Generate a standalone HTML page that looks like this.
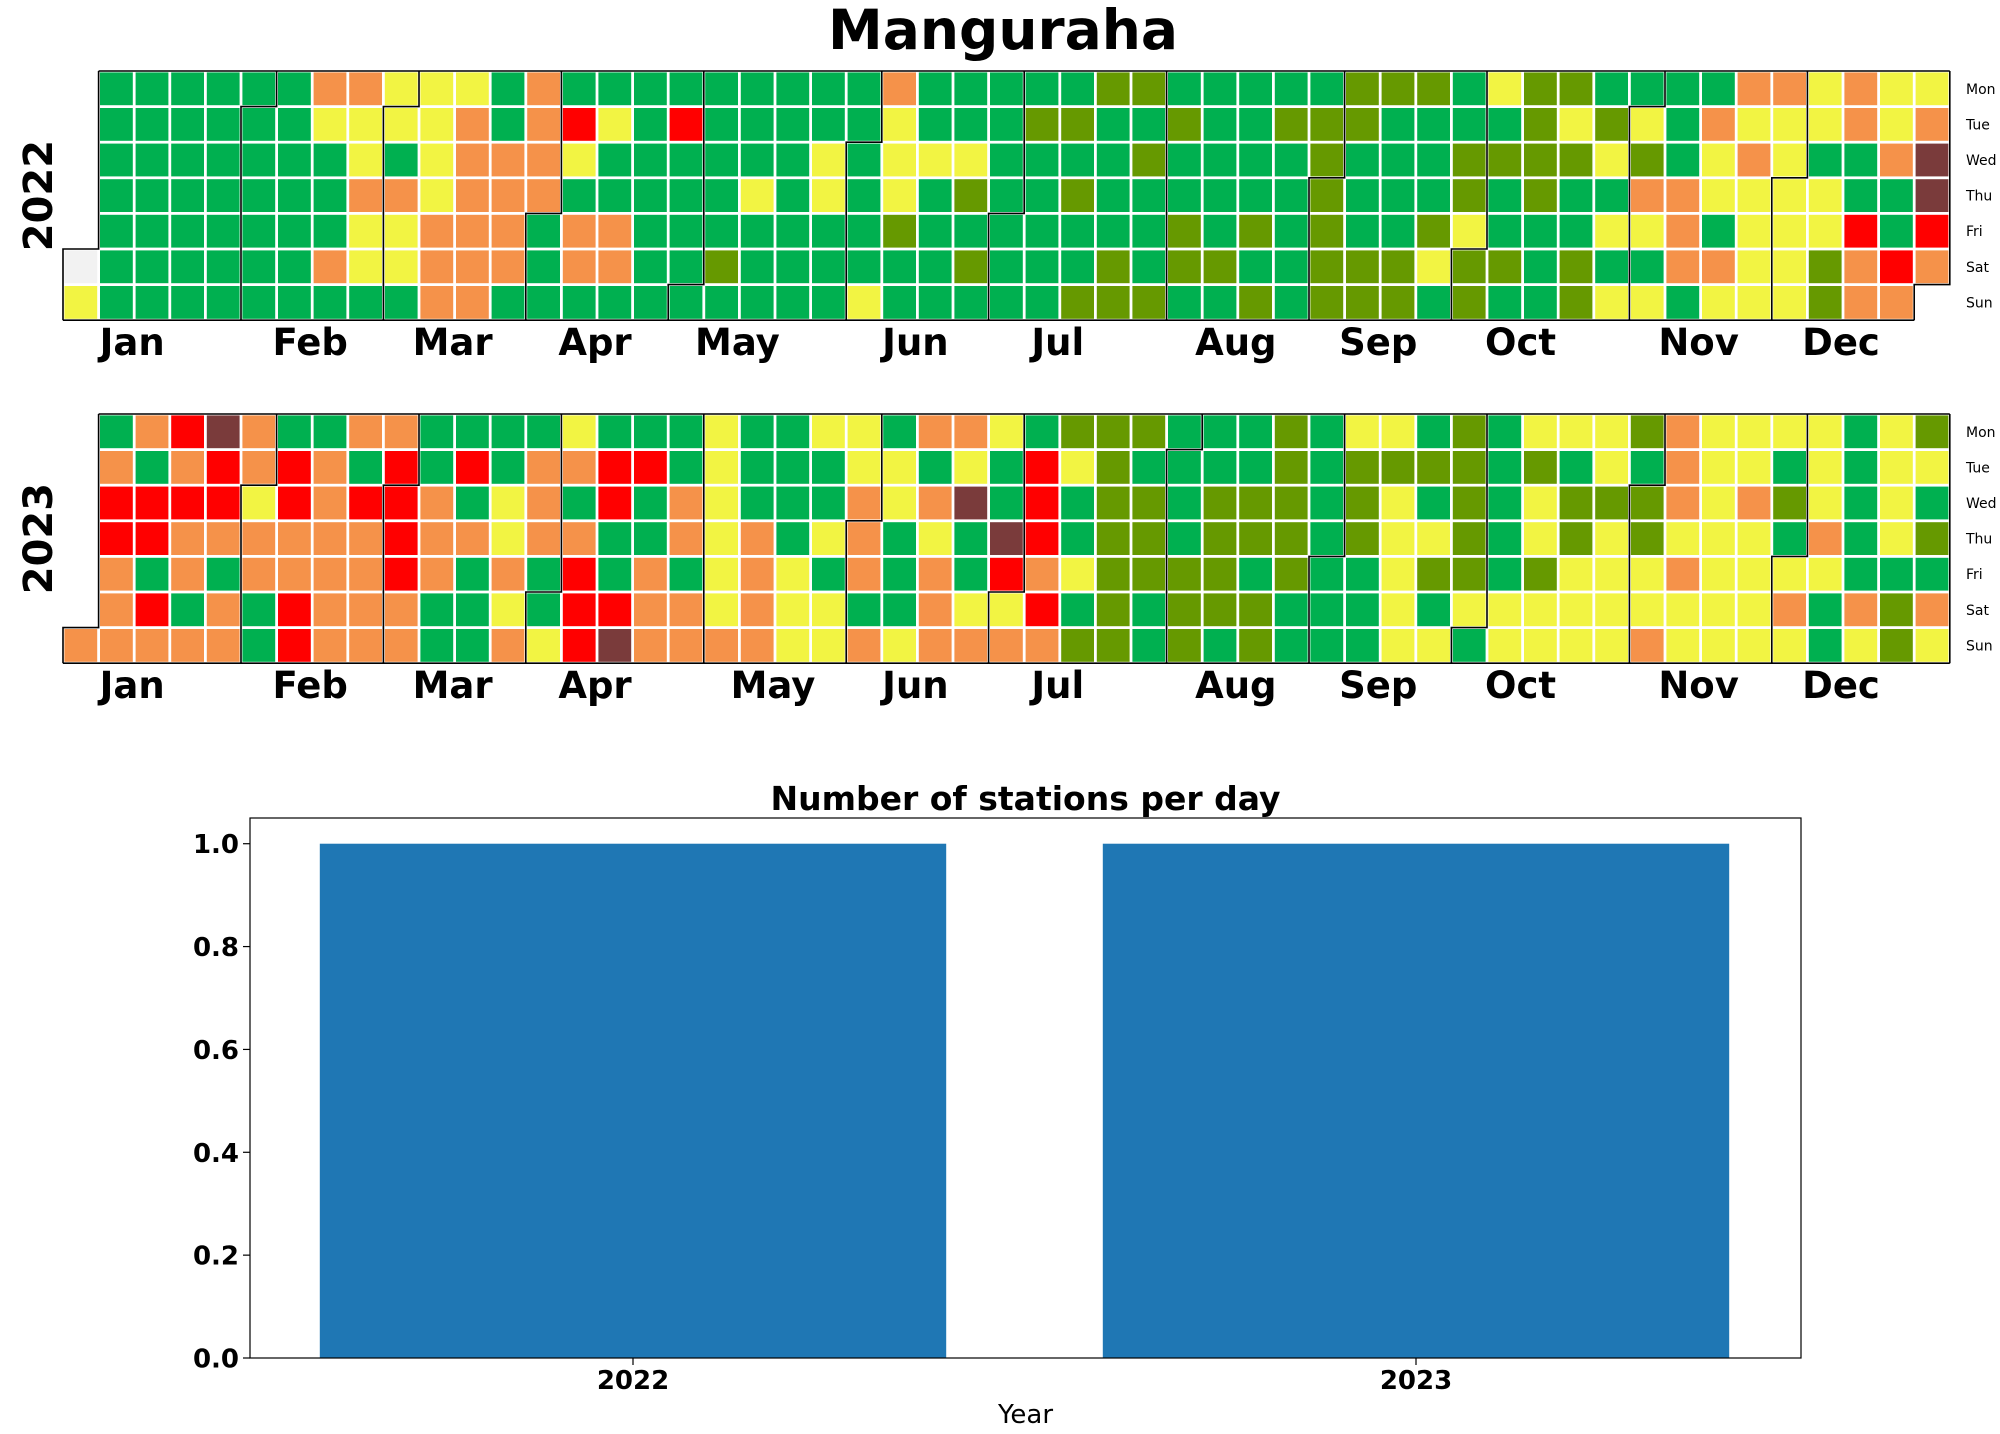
<!DOCTYPE html>
<html><head><meta charset="utf-8">
<style>
html,body{margin:0;padding:0;background:#fff;}
svg{display:block;font-family:"DejaVu Sans","Liberation Sans",sans-serif;}
</style></head>
<body>
<svg id="chart" width="2000" height="1434" viewBox="0 0 2000 1434" xmlns="http://www.w3.org/2000/svg">
<text x="1003" y="49" font-size="55" font-weight="bold" text-anchor="middle">Manguraha</text>
<g id="cal"></g>
<g id="bars"></g>
</svg>
<script>
// ---- Calendar data: one string per weekday row (Mon..Sun), one char per week column
// g=green, o=olive, y=yellow, a=orange, r=red, b=brown, n=no data, .=outside year
const years = [2022, 2023];
const rows2022 = [
".ggggggaayyyga" + "ggggggggg" + "aggg" + "ggoogggggooogyooggggaayayy",
".ggggggyyyyagarygr" + "ggggg" + "yggg" + "ooggoggooogggg" + "oyoygayyyaya",
".gggggggygyaaay" + "gggggg" + "ygyyyg" + "gggoggggogggoooo" + "yogyayggab",
".gggggggaayaaa" + "ggggg" + "ygygygog" + "gogggggg" + "ogggogogg" + "aayyyyggb",
".gggggggyyaaagaa" + "ggggggg" + "oggg" + "ggggogogoggoy" + "gggyyagyyyrgr",
"nggggggayyaaagaaggo" + "gggggg" + "og" + "ggogoogg" + "oooyoogo" + "ggaayyoara",
"yggggggggg" + "aa" + "gggggggggg" + "y" + "gggg" + "goooggogooogoggo" + "yygyyyoaa."
];
const rows2023 = [
".garbaggaagggg" + "ygggyggyygaay" + "gooogggog" + "yygogyyyo" + "ayyyygyo",
".agararagrgrgaarrgygggyygyg" + "ryoggggogoooogogygayygygyy",
".rrrryrarragyagrgaygggayabg" + "rgoogooogoygogyoooayaoygyg",
".rraaaaaaraayaaggayagyagygb" + "rgoogooogoyyogyoyoyyygagyo",
".agagaaaaragagrgagyaygagagr" + "ayoooogoggyoogoyyyayyyyggg",
".argagraaaggygrraayayyggayy" + "rgogooogggygyyyyyyyyyagaoa",
"aaaaagraaaggayrbaaaayyayaaa" + "aoogogogggyygyyyyayyyygyoy"
];
const levelCodes = ["g","o","y","a","r","b","n"];
const levelColors = ["#00b050","#669900","#f2f443","#f5924a","#ff0000","#7a3b3b","#f2f2f2"];
const monthNames = ["Jan","Feb","Mar","Apr","May","Jun","Jul","Aug","Sep","Oct","Nov","Dec"];
const dayNames = ["Mon","Tue","Wed","Thu","Fri","Sat","Sun"];
const monthTicks2022 = [2,7,11,15,19,24,28,33,37,41,46,50];
const monthTicks2023 = [2,7,11,15,20,24,28,33,37,41,46,50];

// ---- Bar chart data
const barYears = ["2022","2023"];
const barValues = [1, 1];
const yTicks = [0,0.2,0.4,0.6,0.8,1.0];

const NS = "http://www.w3.org/2000/svg";
function mk(tag, attrs, parent){
  const e = document.createElementNS(NS, tag);
  for (const k in attrs) e.setAttribute(k, attrs[k]);
  parent.appendChild(e);
  return e;
}
const cal = document.getElementById("cal");
const X0 = 63, P = 35.6;
function xCol(c){ return X0 + c*P; }

function drawYear(yi, rows, ticks, top){
  const year = years[yi];
  const yRow = r => top + r*P;
  const g = mk("g", {}, cal);
  
  
  for (let r=0;r<7;r++){
    for (let c=0;c<rows[r].length;c++){
      const ch = rows[r][c];
      if (ch === ".") continue;
      const li = levelCodes.indexOf(ch);
      const rect = mk("rect", {x:xCol(c)+1.4, y:yRow(r)+1.4, width:P-2.8, height:P-2.8, fill:levelColors[li]}, g);
      
      
    }
  }
  const jan1 = new Date(Date.UTC(year,0,1));
  const off = (jan1.getUTCDay()+6)%7;
  function pos(m){
    const d = new Date(Date.UTC(year,m,1));
    const doy = Math.round((d - jan1)/86400000);
    const idx = doy + off;
    return [Math.floor(idx/7), idx%7];
  }
  for (let m=0;m<=12;m++){
    const [c,r] = pos(m);
    let dPath;
    if (r===0) dPath = `M${xCol(c)},${yRow(7)} L${xCol(c)},${yRow(0)}`;
    else dPath = `M${xCol(c)},${yRow(7)} L${xCol(c)},${yRow(r)} L${xCol(c+1)},${yRow(r)} L${xCol(c+1)},${yRow(0)}`;
    const p = mk("path", {d:dPath, fill:"none", stroke:"#000", "stroke-width":1.6}, g);
    
    
  }
  const [c0,r0] = pos(0), [c1,r1] = pos(12);
  const tl = mk("line", {x1:xCol(c0+(r0>0?1:0)), y1:yRow(0), x2:xCol(53), y2:yRow(0), stroke:"#000","stroke-width":1.6}, g);
  
  
  const bl = mk("line", {x1:xCol(0), y1:yRow(7), x2:xCol(c1), y2:yRow(7), stroke:"#000","stroke-width":1.6}, g);
  
  
  for (let m=0;m<12;m++){
    const t = mk("text", {x:xCol(ticks[m])-2, y:top+284, "font-size":37, "font-weight":"bold", "text-anchor":"middle"}, g);
    t.textContent = monthNames[m];
    
    
  }
  for (let r=0;r<7;r++){
    const t = mk("text", {x:1966, y:yRow(r)+P/2+5, "font-size":14}, g);
    t.textContent = dayNames[r];
    
    
  }
  const cy = top + 3.5*P;
  const yl = mk("text", {x:0, y:0, "font-size":40, "font-weight":"bold", "text-anchor":"middle", transform:`translate(52,${cy}) rotate(-90)`}, g);
  yl.textContent = String(year);
  
  
}
drawYear(0, rows2022, monthTicks2022, 71);
drawYear(1, rows2023, monthTicks2023, 414);

// ---- Bar chart
const bars = document.getElementById("bars");
const AX = {l:250, r:1801, t:818, b:1358};
const catStep = 783, cat0 = 633;
function xBar(i){ return cat0 + i*catStep; }
function yVal(v){ return AX.b - v*(AX.b-AX.t)/1.05; }
const bt = mk("text", {x:(AX.l+AX.r)/2, y:810, "font-size":33, "font-weight":"bold", "text-anchor":"middle"}, bars);
bt.textContent = "Number of stations per day";


for (let i=0;i<barValues.length;i++){
  const w = 0.8*catStep;
  const r = mk("rect", {x:xBar(i)-w/2, y:yVal(barValues[i]), width:w, height:yVal(0)-yVal(barValues[i]), fill:"#1f77b4"}, bars);
  
  
  const tk = mk("line", {x1:xBar(i), y1:AX.b, x2:xBar(i), y2:AX.b+7, stroke:"#000","stroke-width":1.2}, bars);
  
  
  const tl = mk("text", {x:xBar(i), y:1389, "font-size":26, "font-weight":"bold", "text-anchor":"middle"}, bars);
  tl.textContent = barYears[i];
  
  
}
for (const v of yTicks){
  const tk = mk("line", {x1:AX.l-7, y1:yVal(v), x2:AX.l, y2:yVal(v), stroke:"#000","stroke-width":1.2}, bars);
  
  
  const tl = mk("text", {x:AX.l-11, y:yVal(v)+9.5, "font-size":26, "font-weight":"bold", "text-anchor":"end"}, bars);
  tl.textContent = v.toFixed(1);
  
  
}
const frame = mk("rect", {x:AX.l, y:AX.t, width:AX.r-AX.l, height:AX.b-AX.t, fill:"none", stroke:"#000","stroke-width":1.2}, bars);


const xl = mk("text", {x:(AX.l+AX.r)/2, y:1423, "font-size":26, "text-anchor":"middle"}, bars);
xl.textContent = "Year";


</script>
</body></html>
